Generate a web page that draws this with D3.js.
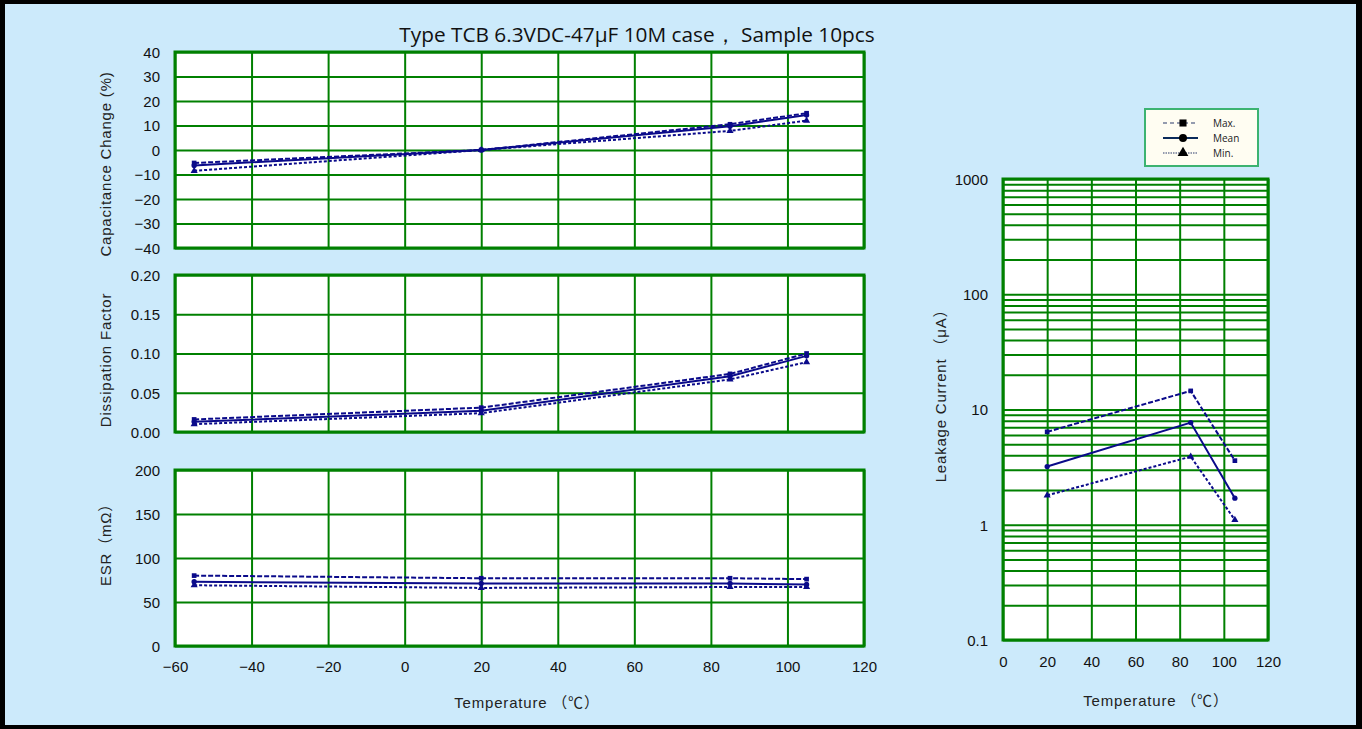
<!DOCTYPE html>
<html>
<head>
<meta charset="utf-8">
<script src="https://cdn.jsdelivr.net/npm/d3@7"></script>
<style>
  body { margin: 0; background: #000; }
  svg { display: block; }
  .tick text { font-family: "Liberation Sans", Arial, sans-serif; font-size: 15px; fill: #111; }
  .lbl { font-family: "Liberation Sans", Arial, "Noto Sans CJK JP", sans-serif; font-size: 15px; fill: #222; letter-spacing: 0.8px; }
</style>
</head>
<body>
<svg id="chart" width="1362" height="729"></svg>
<script>
// Data
const temps = [-55, 20, 85, 105];
const capMax = [-5.3, 0, 10.5, 15.0];
const capMean = [-6.3, 0, 9.7, 14.3];
const capMin = [-8.5, 0, 7.8, 12.0];

const dfMax = [0.016, 0.031, 0.074, 0.100];
const dfMean = [0.013, 0.027, 0.071, 0.097];
const dfMin = [0.010, 0.024, 0.067, 0.089];

const esrMax = [80, 77, 77, 76];
const esrMean = [73, 71, 71, 70];
const esrMin = [69, 66, 67, 67];

const lcTemps = [20, 85, 105];
const lcMax = [6.4, 14.5, 3.6];
const lcMean = [3.2, 7.7, 1.7];
const lcMin = [1.8, 3.9, 1.1];

// Ticks
const xTicks = [-60, -40, -20, 0, 20, 40, 60, 80, 100, 120];
const capTicks = [-40, -30, -20, -10, 0, 10, 20, 30, 40];
const dfTicks = [0, 0.05, 0.10, 0.15, 0.20];
const esrTicks = [0, 50, 100, 150, 200];
const lcXTicks = [0, 20, 40, 60, 80, 100, 120];
const lcTicks = [0.1, 1, 10, 100, 1000];
const lcTickLabels = ["0.1", "1", "10", "100", "1000"];

const green = "#008000";
const navy = "#0a0a8a";

const svg = d3.select("#chart");

// Background + border
svg.append("rect").attr("width", 1362).attr("height", 729).attr("fill", "#000");
svg.append("rect").attr("x", 5).attr("y", 4).attr("width", 1351).attr("height", 721).attr("fill", "#cceafb");

// Title
svg.append("text")
	.attr("x", 637).attr("y", 42)
	.attr("text-anchor", "middle")
	.style("font-family", "'Open Sans', sans-serif")
	.style("font-size", "20.8px")
	.style("fill", "#111")
	.text("Type TCB 6.3VDC-47μF 10M case， Sample 10pcs");

const x = d3.scaleLinear().domain([-60, 120]).range([175, 864]);

const series = [
	{ key: "max", dash: "5,2", symbol: d3.symbolSquare },
	{ key: "mean", dash: null, symbol: d3.symbolCircle },
	{ key: "min", dash: "3,2", symbol: d3.symbolTriangle }
];

function drawSeries(g, xs, ys, tArr, values) {
	series.forEach(function (s, i) {
		const pts = tArr.map(function (t, j) { return [t, values[i][j]]; });
		g.append("path")
			.datum(pts)
			.attr("fill", "none")
			.attr("stroke", navy)
			.attr("stroke-width", 2)
			.attr("stroke-dasharray", s.dash)
			.attr("d", d3.line().x(function (d) { return xs(d[0]); }).y(function (d) { return ys(d[1]); }));
		g.selectAll(".m-" + s.key)
			.data(pts)
			.join("path")
			.attr("class", "m-" + s.key)
			.attr("fill", navy)
			.attr("transform", function (d) { return "translate(" + xs(d[0]) + "," + ys(d[1]) + ")"; })
			.attr("d", d3.symbol().type(s.symbol).size(22));
	});
}

function panel(top, bottom, domain, ticks, fmt, label, labelY, values) {
	const y = d3.scaleLinear().domain(domain).range([bottom, top]);
	const g = svg.append("g");
	g.append("rect")
		.attr("x", 175).attr("y", top)
		.attr("width", 864 - 175).attr("height", bottom - top)
		.attr("fill", "#fff");
	// grid
	g.append("g")
		.attr("transform", "translate(0," + bottom + ")")
		.call(d3.axisBottom(x).tickValues(xTicks).tickSize(-(bottom - top)).tickFormat(""))
		.call(function (a) { a.select(".domain").remove(); a.selectAll("line").attr("stroke", green).attr("stroke-width", 2); });
	g.append("g")
		.attr("transform", "translate(175,0)")
		.call(d3.axisLeft(y).tickValues(ticks).tickSize(-(864 - 175)).tickFormat(""))
		.call(function (a) { a.select(".domain").remove(); a.selectAll("line").attr("stroke", green).attr("stroke-width", 2); });
	// labels
	g.append("g")
		.attr("transform", "translate(175,0)")
		.call(d3.axisLeft(y).tickValues(ticks).tickSize(0).tickPadding(15).tickFormat(fmt))
		.call(function (a) { a.select(".domain").remove(); a.selectAll("text").attr("dy", "0.36em"); });
	g.append("rect")
		.attr("x", 175).attr("y", top)
		.attr("width", 864 - 175).attr("height", bottom - top)
		.attr("fill", "none").attr("stroke", green).attr("stroke-width", 3);
	g.append("text")
		.attr("class", "lbl")
		.attr("transform", "translate(111," + labelY + ") rotate(-90)")
		.attr("text-anchor", "middle")
		.text(label);
	drawSeries(g, x, y, temps, values);
	return y;
}

panel(52, 248, [-40, 40], capTicks, d3.format("d"), "Capacitance  Change (%)", 164, [capMax, capMean, capMin]);
panel(275, 432, [0, 0.20], dfTicks, d3.format(".2f"), "Dissipation  Factor", 360, [dfMax, dfMean, dfMin]);
panel(470, 646, [0, 200], esrTicks, d3.format("d"), "ESR（mΩ）", 541, [esrMax, esrMean, esrMin]);

// left x axis labels
svg.append("g")
	.attr("transform", "translate(0,657)")
	.call(d3.axisBottom(x).tickValues(xTicks).tickSize(0).tickPadding(4).tickFormat(d3.format("d")))
	.call(function (a) { a.select(".domain").remove(); });

svg.append("text")
	.attr("class", "lbl")
	.attr("x", 527).attr("y", 708)
	.attr("text-anchor", "middle")
	.text("Temperature （℃）");

// Leakage current (log)
const xr = d3.scaleLinear().domain([0, 120]).range([1003, 1268]);
const yr = d3.scaleLog().domain([0.1, 1000]).range([640, 179]);

const minor = [];
[0.1, 1, 10, 100].forEach(function (dec) {
	for (let k = 1; k <= 9; k++) minor.push(dec * k);
});
minor.push(1000);

const gr = svg.append("g");
gr.append("rect")
	.attr("x", 1003).attr("y", 179)
	.attr("width", 1268 - 1003).attr("height", 640 - 179)
	.attr("fill", "#fff");
gr.append("g")
	.attr("transform", "translate(0,640)")
	.call(d3.axisBottom(xr).tickValues(lcXTicks).tickSize(-(640 - 179)).tickFormat(""))
	.call(function (a) { a.select(".domain").remove(); a.selectAll("line").attr("stroke", green).attr("stroke-width", 2); });
gr.append("g")
	.attr("transform", "translate(1003,0)")
	.call(d3.axisLeft(yr).tickValues(minor).tickSize(-(1268 - 1003)).tickFormat(""))
	.call(function (a) { a.select(".domain").remove(); a.selectAll("line").attr("stroke", green).attr("stroke-width", 2); });
gr.append("g")
	.attr("transform", "translate(1003,0)")
	.call(d3.axisLeft(yr).tickValues(lcTicks).tickSize(0).tickPadding(15)
		.tickFormat(function (d, i) { return lcTickLabels[i]; }))
	.call(function (a) { a.select(".domain").remove(); a.selectAll("text").attr("dy", "0.36em"); });
gr.append("rect")
	.attr("x", 1003).attr("y", 179)
	.attr("width", 1268 - 1003).attr("height", 640 - 179)
	.attr("fill", "none").attr("stroke", green).attr("stroke-width", 3);
gr.append("g")
	.attr("transform", "translate(0,652)")
	.call(d3.axisBottom(xr).tickValues(lcXTicks).tickSize(0).tickPadding(4).tickFormat(d3.format("d")))
	.call(function (a) { a.select(".domain").remove(); });

drawSeries(gr, xr, yr, lcTemps, [lcMax, lcMean, lcMin]);

gr.append("text")
	.attr("class", "lbl")
	.attr("transform", "translate(946,392) rotate(-90)")
	.attr("text-anchor", "middle")
	.text("Leakage Current （μA）");

svg.append("text")
	.attr("class", "lbl")
	.attr("x", 1156).attr("y", 706)
	.attr("text-anchor", "middle")
	.text("Temperature （℃）");

// Legend
const legendLabels = ["Max.", "Mean", "Min."];
const lg = svg.append("g").attr("transform", "translate(1145,109)");
lg.append("rect")
	.attr("width", 113).attr("height", 57)
	.attr("fill", "#fffdf2").attr("stroke", "#3cb371").attr("stroke-width", 2);
series.forEach(function (s, i) {
	const yy = 14 + i * 15;
	lg.append("line")
		.attr("x1", 18).attr("x2", 53).attr("y1", yy).attr("y2", yy)
		.attr("stroke", i === 1 ? "#0a2a5a" : "#2a3a6a")
		.attr("stroke-width", i === 1 ? 2 : 1.2)
		.attr("stroke-dasharray", i === 0 ? "4,3" : (i === 2 ? "1.5,1" : null));
	lg.append("path")
		.attr("transform", "translate(38," + yy + ")")
		.attr("fill", "#000")
		.attr("d", d3.symbol().type(s.symbol).size(50));
	lg.append("text")
		.attr("x", 68).attr("y", yy + 4)
		.style("font-family", "'Open Sans', sans-serif")
		.style("font-size", "10px")
		.style("fill", "#222")
		.text(legendLabels[i]);
});
</script>
</body>
</html>
